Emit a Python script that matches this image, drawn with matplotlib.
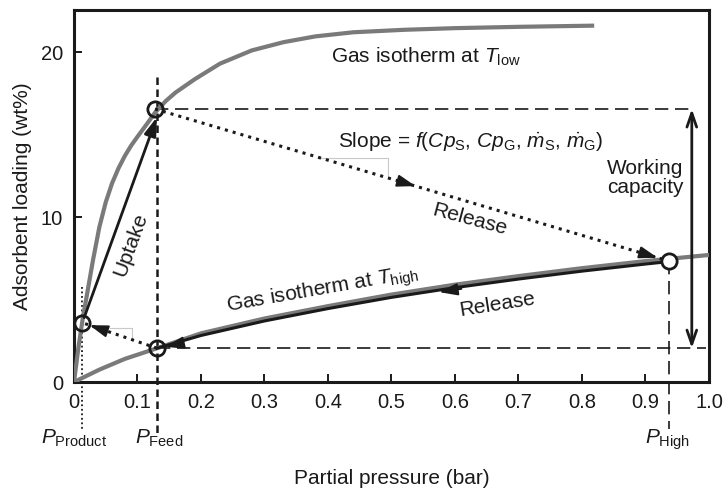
import numpy as np
import matplotlib.pyplot as plt

plt.rcParams['font.family'] = ['Liberation Sans', 'DejaVu Sans']
plt.rcParams['mathtext.fontset'] = 'custom'
plt.rcParams['mathtext.rm'] = 'Liberation Sans'
plt.rcParams['mathtext.it'] = 'Liberation Sans:italic'
plt.rcParams['mathtext.bf'] = 'Liberation Sans:bold'

# isotherm at T_low
p_low = [0, 0.007, 0.014, 0.02, 0.03, 0.04, 0.05, 0.06, 0.07, 0.08, 0.09, 0.1,
         0.115, 0.128, 0.145, 0.16, 0.19, 0.23, 0.28, 0.33, 0.38, 0.44, 0.52,
         0.6, 0.7, 0.816]
q_low = [0, 2.1, 3.9, 5.2, 7.4, 9.4, 10.9, 12.05, 12.95, 13.7, 14.33, 14.87,
         15.65, 16.35, 17.05, 17.55, 18.35, 19.3, 20.1, 20.6, 20.95, 21.2, 21.35,
         21.45, 21.53, 21.6]

# isotherm at T_high
p_high = [0, 0.04, 0.08, 0.131, 0.2, 0.3, 0.4, 0.5, 0.6, 0.7, 0.8, 0.9, 1.0]
q_high = [0, 0.75, 1.4, 2.05, 2.95, 3.85, 4.6, 5.3, 5.9, 6.42, 6.9, 7.33, 7.7]

# release path (black, from P_high back to P_feed)
p_rel = [0.937, 0.9, 0.8, 0.7, 0.6, 0.5, 0.4, 0.3, 0.2, 0.131]
q_rel = [7.3, 7.15, 6.72, 6.24, 5.72, 5.13, 4.45, 3.7, 2.82, 2.05]

# cycle points
p_prod, q_prod = 0.0126, 3.6
p_feed, q_feed = 0.1307, 2.05
p_top, q_top = 0.1276, 16.55
p_hi, q_hi = 0.937, 7.33

xticks = [0, 0.1, 0.2, 0.3, 0.4, 0.5, 0.6, 0.7, 0.8, 0.9, 1.0]
xticklabels = ['0', '0.1', '0.2', '0.3', '0.4', '0.5', '0.6', '0.7', '0.8', '0.9', '1.0']
yticks = [0, 10, 20]

gray = '#7a7a7a'
dark = '#1a1a1a'

fig = plt.figure(figsize=(7.24, 4.88), dpi=100)
ax = fig.add_axes([0.1022, 0.2172, 0.877, 0.7623])


def head(xy, xyfrom, ms=10, hl=1.1, hw=0.36):
    # arrowhead only, tip at xy pointing away from xyfrom
    ax.annotate('', xy=xy, xytext=xyfrom,
                arrowprops=dict(arrowstyle='-|>,head_length=%g,head_width=%g' % (hl, hw),
                                color=dark, lw=1.5, shrinkA=0, shrinkB=0,
                                mutation_scale=ms), zorder=6)


def along(p0, p1, f):
    return (p0[0] + f*(p1[0]-p0[0]), p0[1] + f*(p1[1]-p0[1]))


# isotherms
ax.plot(p_low, q_low, color=gray, lw=3, solid_joinstyle='round', zorder=3)
ax.plot(p_high, q_high, color=gray, lw=3, solid_joinstyle='round', zorder=3)
ax.plot(p_rel, q_rel, color=dark, lw=2.2, solid_joinstyle='round', zorder=4)

# guide lines
ax.plot([p_top, 0.973], [q_top, q_top], color=dark, lw=1.2, ls=(0, (8, 4)), zorder=2)
ax.plot([p_feed, 0.995], [q_feed, q_feed], color=dark, lw=1.2, ls=(0, (8, 4)), zorder=2)
ax.plot([p_hi, p_hi], [q_hi, -2.85], color=dark, lw=1.2, ls=(0, (8, 4)), zorder=2, clip_on=False)
ax.plot([p_feed, p_feed], [18.5, -3.2], color=dark, lw=1.8, ls=(0, (3, 1.8)), zorder=2, clip_on=False)
ax.plot([p_prod, p_prod], [5.75, -3.0], color=dark, lw=1.3, ls=(0, (1, 1.5)), zorder=2, clip_on=False)

# slope triangles
ax.plot([0.385, 0.495, 0.495], [13.6, 13.6, 12.36], color='#c8c8c8', lw=0.8, zorder=1)
ax.plot([0.057, 0.092, 0.092], [3.27, 3.27, 2.56], color='#c8c8c8', lw=0.8, zorder=1)

# dotted transitions
ax.plot([p_top, p_hi], [q_top, q_hi], color=dark, lw=2.2, ls=':', zorder=4)
ax.plot([p_feed, p_prod], [q_feed, q_prod], color=dark, lw=2.2, ls=':', zorder=4)
head(along((p_top, q_top), (p_hi, q_hi), 0.507), along((p_top, q_top), (p_hi, q_hi), 0.48))
head(along((p_top, q_top), (p_hi, q_hi), 0.978), along((p_top, q_top), (p_hi, q_hi), 0.95))
head(along((p_feed, q_feed), (p_prod, q_prod), 0.9), along((p_feed, q_feed), (p_prod, q_prod), 0.7))

# uptake arrow
ax.annotate('', xy=(0.1305, 16.05), xytext=(0.016, 3.9),
            arrowprops=dict(arrowstyle='-|>,head_length=1.1,head_width=0.36', color=dark,
                            lw=2, shrinkA=0, shrinkB=0, mutation_scale=10), zorder=5)

# release arrowheads on the black path
head((0.575, 5.45), (0.61, 5.65))
head((0.144, 2.13), (0.17, 2.36))

# working capacity
ax.annotate('', xy=(0.973, q_top), xytext=(0.973, q_feed),
            arrowprops=dict(arrowstyle='<->,head_length=1.0,head_width=0.35', color=dark,
                            lw=2, shrinkA=0, shrinkB=0, mutation_scale=10), zorder=5)

# cycle points
ax.plot([p_prod, p_feed, p_top], [q_prod, q_feed, q_top], 'o', ms=11, mfc='none',
        mec=dark, mew=2, zorder=7)
ax.plot([p_hi], [q_hi], 'o', ms=11, mfc='white', mec=dark, mew=2, zorder=7)

fs = 15
ax.text(0.404, 19.35, r'Gas isotherm at $T_{\rm low}$', fontsize=fs, color=dark)
ax.text(0.416, 14.25, r'Slope = $f$($Cp_{\rm S}$, $Cp_{\rm G}$, $\dot{m}_{\rm S}$, $\dot{m}_{\rm G}$)',
        fontsize=fs, color=dark)
ax.text(0.96, 12.35, 'Working\ncapacity', fontsize=fs, color=dark, ha='right', va='center',
        linespacing=1.0)
ax.text(0.623, 9.82, 'Release', fontsize=fs, color=dark, ha='center', va='center',
        rotation=-15, rotation_mode='anchor')
ax.text(0.09, 8.3, 'Uptake', fontsize=fs, color=dark, ha='center', va='center',
        rotation=70, rotation_mode='anchor')
ax.text(0.392, 5.3, r'Gas isotherm at $T_{\rm high}$', fontsize=fs, color=dark, ha='center',
        va='baseline', rotation=10, rotation_mode='anchor')
ax.text(0.666, 4.67, 'Release', fontsize=fs, color=dark, ha='center', va='center',
        rotation=9, rotation_mode='anchor')

# pressure labels under the axis
ax.text(0.0, -3.76, r'$P_{\rm Product}$', fontsize=fs, color=dark, ha='center', va='baseline')
ax.text(0.134, -3.76, r'$P_{\rm Feed}$', fontsize=fs, color=dark, ha='center', va='baseline')
ax.text(0.934, -3.76, r'$P_{\rm High}$', fontsize=fs, color=dark, ha='center', va='baseline')

ax.set_xlim(0, 1.0)
ax.set_ylim(0, 22.55)
ax.set_xticks(xticks)
ax.set_xticklabels(xticklabels)
ax.set_yticks(yticks)
ax.tick_params(direction='in', length=5.5, width=1.4, labelsize=14.5, colors=dark, pad=8)
for s in ax.spines.values():
    s.set_linewidth(2.2)
    s.set_color(dark)

ax.set_xlabel('Partial pressure (bar)', fontsize=fs, color=dark, labelpad=41)
ax.set_ylabel('Adsorbent loading (wt%)', fontsize=fs, color=dark, labelpad=6)

fig.savefig('out.png', dpi=100)
